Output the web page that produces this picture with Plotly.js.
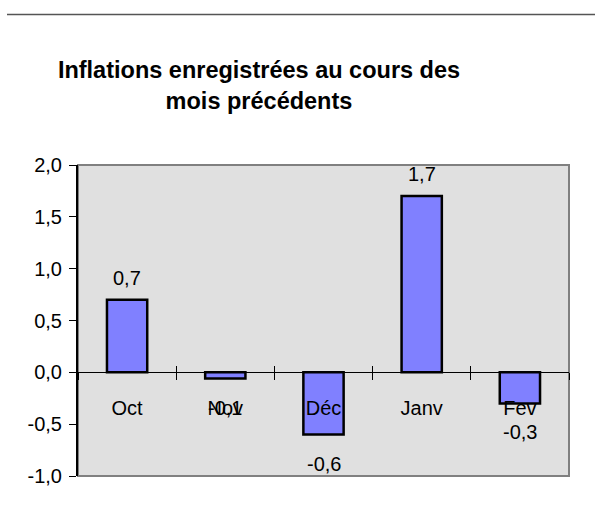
<!DOCTYPE html>
<html>
<head>
<meta charset="utf-8">
<script src="https://cdn.plot.ly/plotly-3.0.1.min.js"></script>
<style>html,body{margin:0;padding:0;background:#fff;}#chart{width:595px;height:518px;}</style>
</head>
<body>
<div id="chart"></div>
<script>
const months = ["Oct", "Nov", "Déc", "Janv", "Fev"];
const inflation = [0.7, -0.06, -0.6, 1.7, -0.3];
const yTicks = [-1.0, -0.5, 0.0, 0.5, 1.0, 1.5, 2.0];
const chartTitle = "Inflations enregistrées au cours des<br>mois précédents";

const FONT = "Liberation Sans, Arial, sans-serif";
const fmt = v => v.toFixed(1).replace(".", ",");

const bars = {
  type: "bar",
  x: months,
  y: inflation,
  width: 0.41,
  marker: {color: "#8080ff", line: {color: "#000000", width: 2.5}},
  hoverinfo: "skip",
  xaxis: "x",
  yaxis: "y"
};
const tickHelper = {
  type: "scatter",
  mode: "none",
  x: months,
  y: inflation,
  xaxis: "x2",
  yaxis: "y",
  hoverinfo: "skip",
  showlegend: false
};

const annotations = months.map((m, i) => ({
  x: m,
  y: inflation[i],
  xref: "x",
  yref: "y",
  text: fmt(inflation[i]),
  showarrow: false,
  yanchor: "middle",
  yshift: inflation[i] >= 0 ? 22 : -29,
  font: {family: FONT, size: 20, color: "#000"}
}));

const layout = {
  width: 595,
  height: 518,
  margin: {l: 78, r: 26, t: 165, b: 42},
  paper_bgcolor: "#ffffff",
  plot_bgcolor: "#e0e0e0",
  separators: ", ",
  showlegend: false,
  font: {family: FONT, size: 20, color: "#000"},
  title: {
    text: chartTitle,
    font: {family: FONT, size: 23.5, color: "#000", weight: "bold"},
    x: 259 / 595,
    xanchor: "center",
    xref: "container",
    yref: "container",
    y: 1 - 78 / 518,
    yanchor: "middle"
  },
  xaxis: {
    type: "category",
    anchor: "free",
    position: 1 / 3,
    showline: true,
    linecolor: "#000",
    linewidth: 1,
    ticks: "outside",
    tickson: "boundaries",
    ticklen: 7,
    tickcolor: "#000",
    tickwidth: 1,
    ticklabelstandoff: 18,
    showgrid: false,
    zeroline: false,
    range: [-0.5, 4.5],
    tickfont: {family: FONT, size: 20, color: "#000"}
  },
  xaxis2: {
    type: "category",
    overlaying: "x",
    matches: "x",
    anchor: "free",
    position: 1 / 3,
    showline: false,
    ticks: "inside",
    tickson: "boundaries",
    ticklen: 6,
    tickcolor: "#000",
    tickwidth: 1,
    showticklabels: false,
    showgrid: false,
    zeroline: false
  },
  yaxis: {
    range: [-1.0, 2.0],
    tickvals: yTicks,
    ticktext: yTicks.map(fmt),
    showline: true,
    linecolor: "#000",
    linewidth: 2,
    ticks: "outside",
    ticklen: 7,
    tickcolor: "#000",
    tickwidth: 1,
    ticklabelstandoff: 3,
    showgrid: false,
    zeroline: false,
    tickfont: {family: FONT, size: 20, color: "#000"}
  },
  annotations: annotations,
  shapes: [
    {type: "rect", xref: "paper", yref: "paper", x0: 0, x1: 1, y0: 0, y1: 1,
     line: {color: "#808080", width: 2}, layer: "below"},
    {type: "line", xref: "paper", yref: "paper", x0: -71 / 491, x1: 517 / 491,
     y0: 1 + 150.5 / 311, y1: 1 + 150.5 / 311,
     line: {color: "#555555", width: 1.5}}
  ]
};

Plotly.newPlot("chart", [bars, tickHelper], layout, {staticPlot: true, displayModeBar: false});
</script>
</body>
</html>
